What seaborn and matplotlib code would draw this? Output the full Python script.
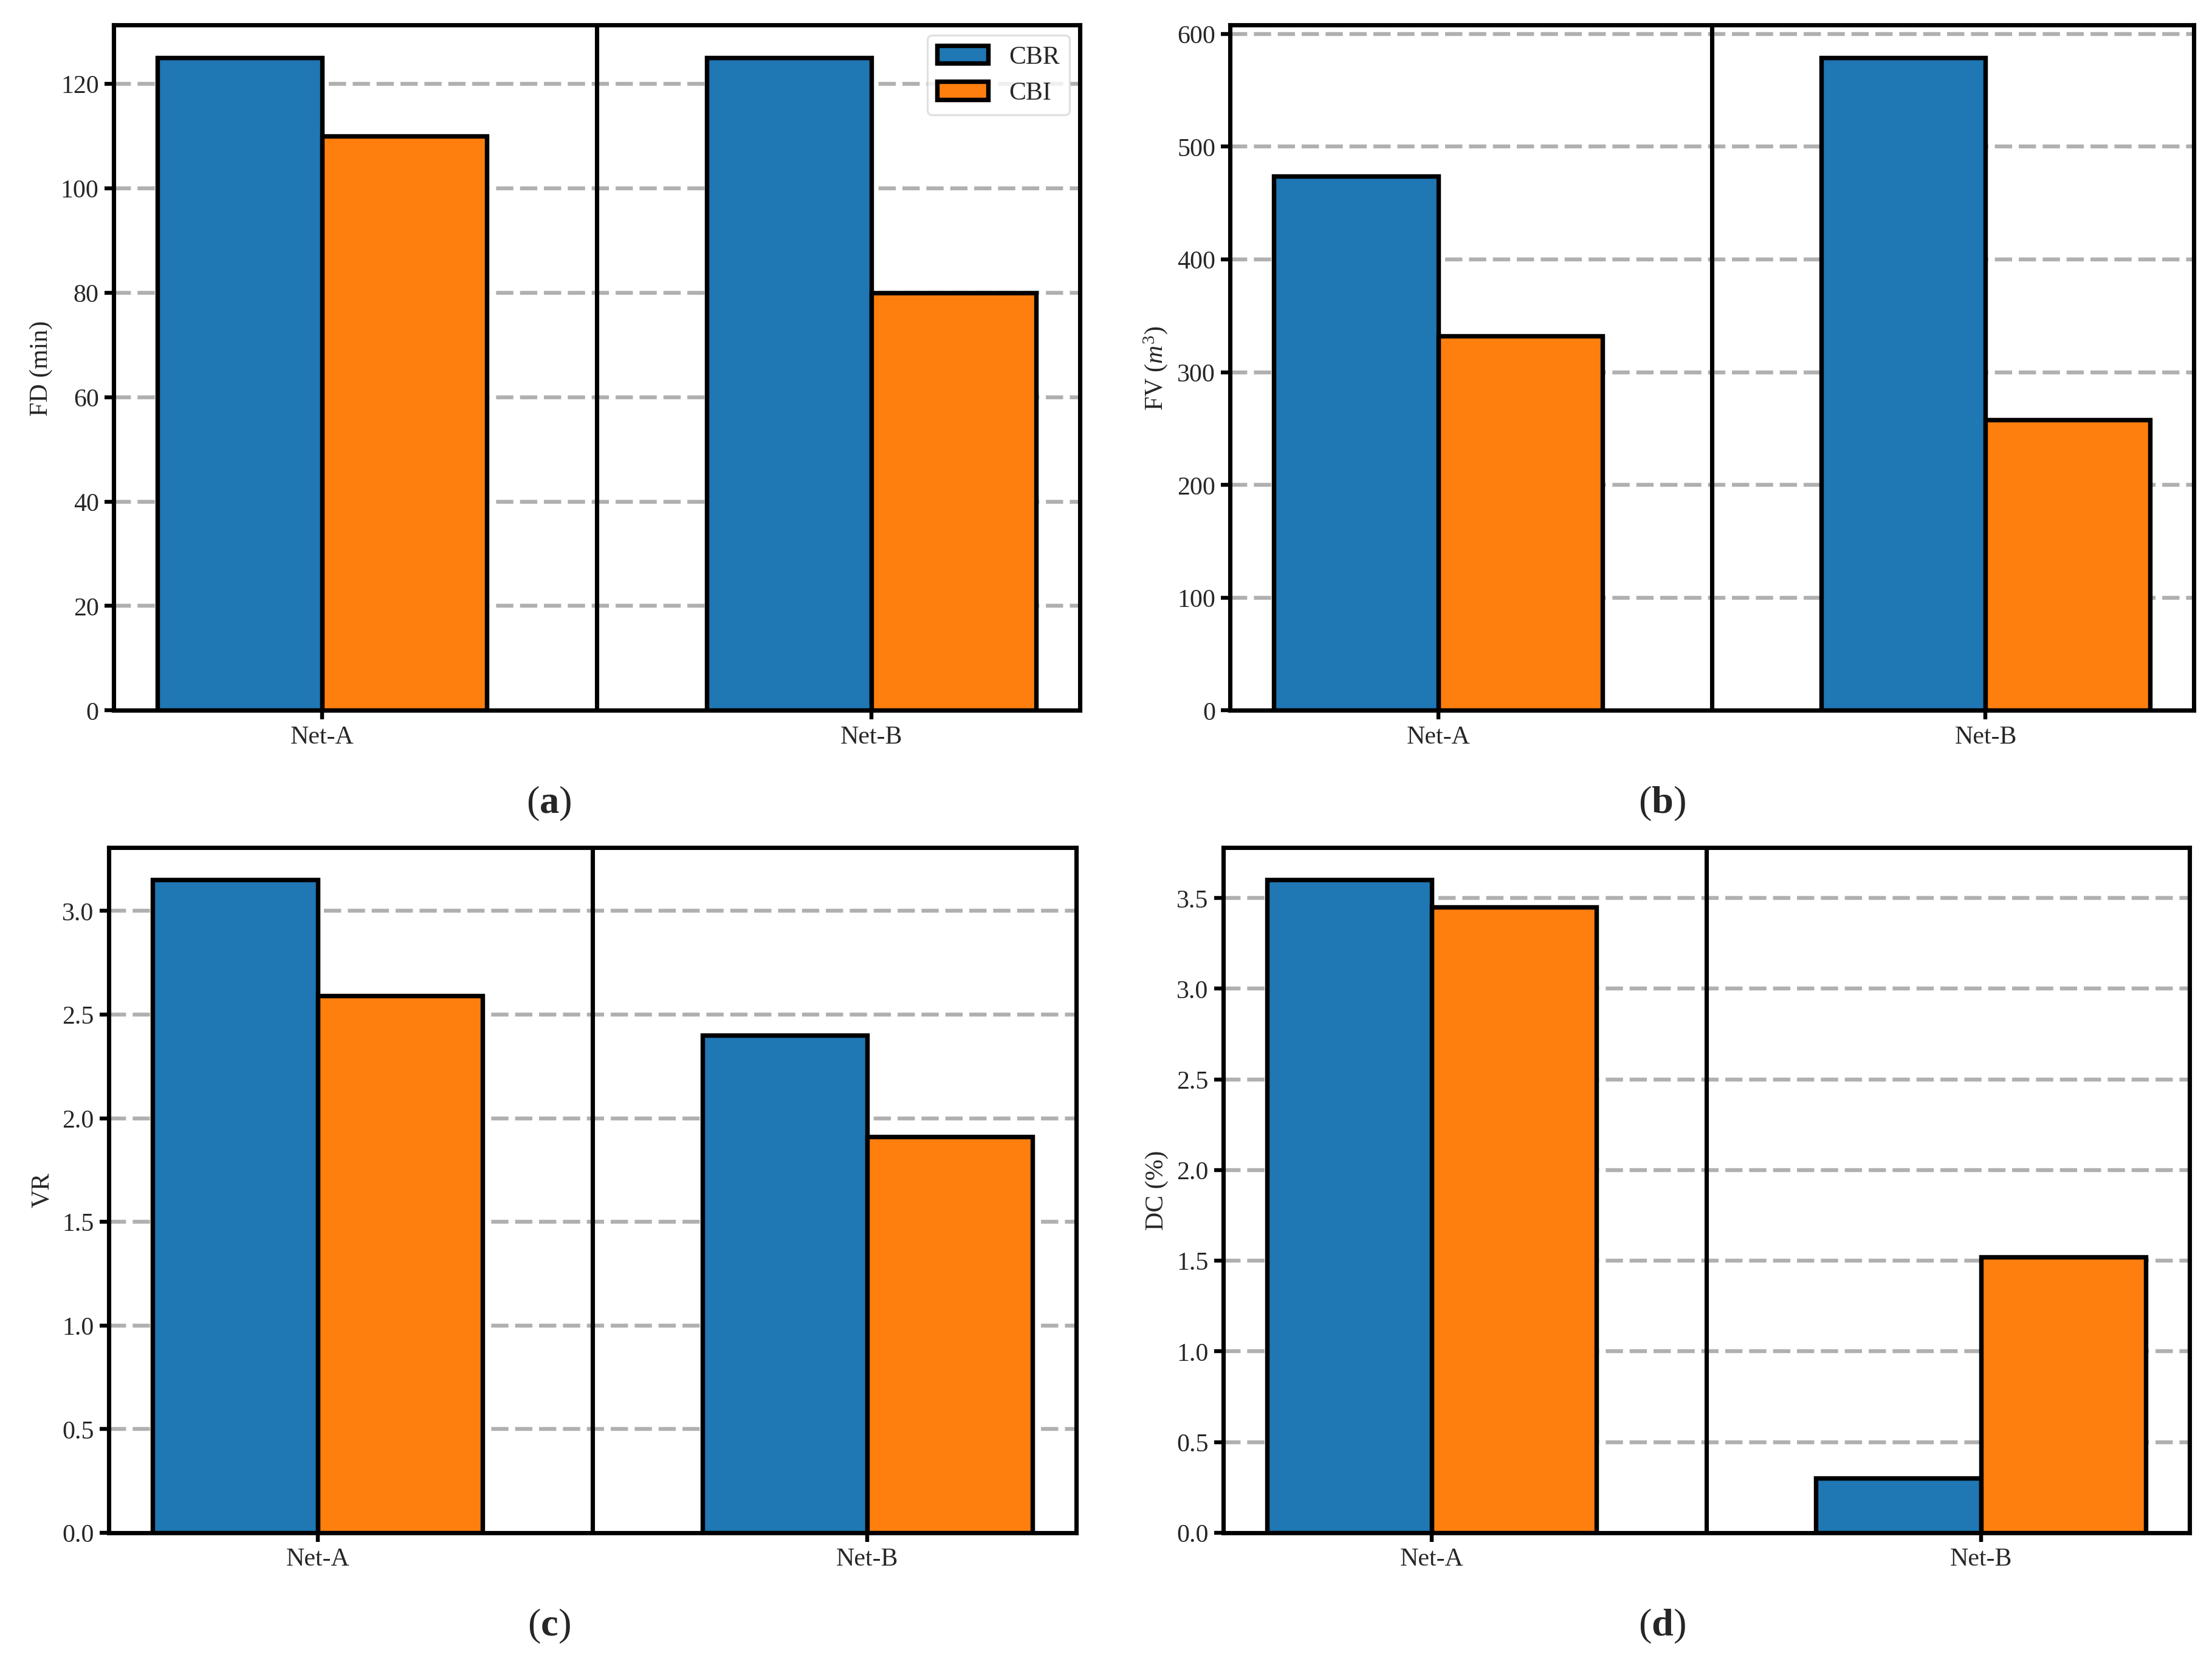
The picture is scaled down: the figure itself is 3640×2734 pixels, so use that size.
import matplotlib
matplotlib.use("Agg")
import matplotlib.pyplot as plt
import seaborn as sns
import pandas as pd

networks = ["Net-A", "Net-B"]
methods = ["CBR", "CBI"]
fd_cbr = [125, 125]
fd_cbi = [110, 80]
fv_cbr = [474, 579]
fv_cbi = [332, 258]
vr_cbr = [3.15, 2.40]
vr_cbi = [2.59, 1.91]
dc_cbr = [3.60, 0.30]
dc_cbi = [3.45, 1.52]
ylabels = ["FD (min)", "FV ($m^3$)", "VR", "DC (%)"]
panel_tags = ["a", "b", "c", "d"]
colors = ["#1f77b4", "#ff7f0e"]

sns.set_theme(style="white")
plt.rcParams["font.family"] = ["Liberation Serif", "DejaVu Serif"]
plt.rcParams["mathtext.fontset"] = "custom"
plt.rcParams["mathtext.rm"] = "Liberation Serif"
plt.rcParams["mathtext.it"] = "Liberation Serif:italic"
plt.rcParams["mathtext.bf"] = "Liberation Serif:bold"

W, H = 15.68, 11.78
fig = plt.figure(figsize=(W, H), dpi=100)

positions = [
    (80.5 / 1568, 1 - 504 / 1178, 685 / 1568, 486 / 1178),
    (872 / 1568, 1 - 504 / 1178, 683 / 1568, 486 / 1178),
    (77 / 1568, 1 - 1087 / 1178, 686 / 1568, 486 / 1178),
    (867 / 1568, 1 - 1087 / 1178, 685 / 1568, 486 / 1178),
]
label_pos = [(389 / 1568, 1 - 570 / 1178), (1178 / 1568, 1 - 570 / 1178),
             (389 / 1568, 1 - 1153 / 1178), (1178 / 1568, 1 - 1153 / 1178)]

series = [(fd_cbr, fd_cbi), (fv_cbr, fv_cbi), (vr_cbr, vr_cbi), (dc_cbr, dc_cbi)]
yticks = [[0, 20, 40, 60, 80, 100, 120], [0, 100, 200, 300, 400, 500, 600],
          [0, 0.5, 1.0, 1.5, 2.0, 2.5, 3.0], [0, 0.5, 1.0, 1.5, 2.0, 2.5, 3.0, 3.5]]
ytickfmt = ["{:.0f}", "{:.0f}", "{:.1f}", "{:.1f}"]

for i, (cbr, cbi) in enumerate(series):
    ax = fig.add_axes(positions[i])
    df = pd.DataFrame({
        "Network": networks * 2,
        "Method": [methods[0]] * 2 + [methods[1]] * 2,
        "Value": list(cbr) + list(cbi),
    })
    sns.barplot(data=df, x="Network", y="Value", hue="Method", order=networks,
                hue_order=methods, palette=colors, width=0.6, gap=0,
                edgecolor="black", linewidth=2.3, saturation=1, errorbar=None,
                legend=(i == 0), ax=ax, zorder=3)
    top = max(max(cbr), max(cbi)) * 1.05
    ax.set_ylim(0, top)
    ax.set_xlim(-0.38, 1.38)
    ax.set_yticks(yticks[i])
    ax.set_yticklabels([ytickfmt[i].format(v) for v in yticks[i]])
    for v in yticks[i]:
        if v > 0:
            ax.axhline(v, color="#b0b0b0", lw=2.0, linestyle=(0, (4.4, 1.7)), zorder=1)
    ax.axvline(0.5, color="black", lw=2.2, zorder=2)
    ax.set_xlabel("")
    ax.set_ylabel(ylabels[i], fontsize=13)
    for s in ax.spines.values():
        s.set_visible(True)
        s.set_color("black")
        s.set_linewidth(2.2)
    ax.tick_params(axis="both", which="major", direction="out", length=4.5, width=2.0,
                   color="black", labelsize=13, left=True, bottom=True, pad=3)
    if i == 0:
        leg = ax.legend(loc="upper right", fontsize=13, frameon=True, fancybox=True,
                        framealpha=0.8, edgecolor="#d9d9d9", handlelength=2.0,
                        borderaxespad=0.4)
        for h in leg.legend_handles:
            h.set_edgecolor("black")
            h.set_linewidth(2.3)
    fig.text(label_pos[i][0], label_pos[i][1],
             r"$\mathrm{(}\mathbf{" + panel_tags[i] + r"}\mathrm{)}$",
             ha="center", va="center", fontsize=20)

fig.savefig("out.png", dpi=3640 / W)
